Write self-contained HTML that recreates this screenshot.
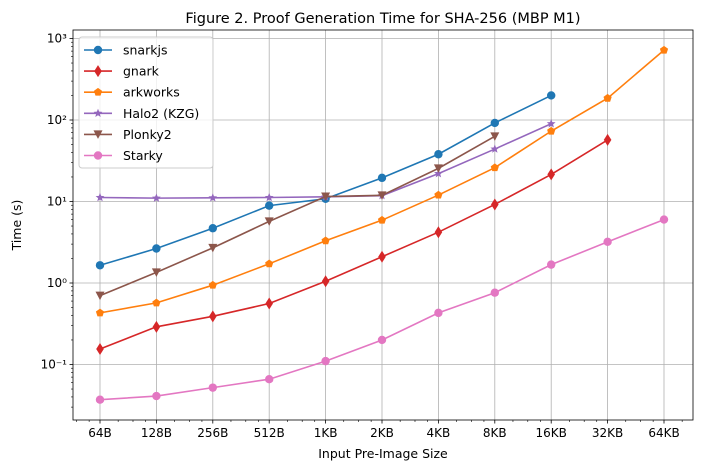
<!DOCTYPE html>
<html><head><meta charset="utf-8"><style>
body{margin:0;background:#fff;font-family:"Liberation Sans","DejaVu Sans",sans-serif}
svg text{font-family:"DejaVu Sans","Liberation Sans",sans-serif}
</style></head><body>
<svg id="c" width="702" height="470" viewBox="0 0 702 470"></svg>
<script>
const categories=["64B","128B","256B","512B","1KB","2KB","4KB","8KB","16KB","32KB","64KB"];
const snarkjs=[1.65,2.65,4.7,8.9,10.8,19.5,38,92,200];
const gnark=[0.155,0.29,0.39,0.56,1.05,2.1,4.2,9.2,21.5,57];
const arkworks=[0.43,0.57,0.94,1.72,3.3,5.9,12,26,73,185,720];
const halo2=[11.2,11.0,11.1,11.2,11.4,11.8,22,44,90];
const plonky2=[0.7,1.35,2.7,5.7,11.5,11.9,25.5,63];
const starky=[0.037,0.041,0.052,0.066,0.11,0.2,0.43,0.76,1.68,3.2,6.0];
const seriesNames=["snarkjs","gnark","arkworks","Halo2 (KZG)","Plonky2","Starky"];
const yTickLabels=["10\u207B\u00B9","10\u2070","10\u00B9","10\u00B2","10\u00B3"];
const yTickExps=[-1,0,1,2,3];

const NS="http://www.w3.org/2000/svg";
const svg=document.getElementById('c');
const L=73,R=693,T=30,B=420;
const x=i=>100+i*(664-100)/10;
const y=v=>283-Math.log10(v)*81.5;
function mk(t,a,p){const e=document.createElementNS(NS,t);for(const k in a)e.setAttribute(k,a[k]);(p||svg).appendChild(e);return e;}
// grid
yTickExps.forEach((e,i)=>{const yy=y(Math.pow(10,e));
 const g=mk('line',{x1:L,x2:R,y1:yy,y2:yy,stroke:'#b0b0b0','stroke-width':0.8});
 
 mk('line',{x1:L-3.5,x2:L,y1:yy,y2:yy,stroke:'#000','stroke-width':0.8});
 const t=mk('text',{x:L-6,y:yy+4,'text-anchor':'end','font-size':12});t.textContent=yTickLabels[i];
 
});
for(let e=-2;e<3;e++)for(let m=2;m<10;m++){const yy=y(m*Math.pow(10,e));if(yy<T||yy>B)continue;
 mk('line',{x1:L-2,x2:L,y1:yy,y2:yy,stroke:'#000','stroke-width':0.6});}
categories.forEach((c,i)=>{const xx=x(i);
 const g=mk('line',{x1:xx,x2:xx,y1:T,y2:B,stroke:'#b0b0b0','stroke-width':0.8});
 
 mk('line',{x1:xx,x2:xx,y1:B,y2:B+3.5,stroke:'#000','stroke-width':0.8});
 const t=mk('text',{x:xx,y:B+17,'text-anchor':'middle','font-size':12});t.textContent=c;
 
});
const step=(664-100)/10;
for(let i=-1;i<11;i++)for(const f of [1.25,1.5,1.75]){const xx=100+(i+Math.log2(f))*step;if(xx<L||xx>R)continue;
 mk('line',{x1:xx,x2:xx,y1:B,y2:B+2,stroke:'#000','stroke-width':0.6});}
const fr=mk('rect',{x:L,y:T,width:R-L,height:B-T,fill:'none',stroke:'#000','stroke-width':0.8});

function marker(kind,cx,cy,col,p){
 if(kind==='o')return mk('circle',{cx,cy,r:4.2,fill:col},p);
 if(kind==='d')return mk('polygon',{points:`${cx},${cy-6} ${cx+3.8},${cy} ${cx},${cy+6} ${cx-3.8},${cy}`,fill:col},p);
 if(kind==='p'){let pts=[];for(let k=0;k<5;k++){const a=-Math.PI/2+k*2*Math.PI/5;pts.push((cx+4.3*Math.cos(a))+','+(cy+4.3*Math.sin(a)));}return mk('polygon',{points:pts.join(' '),fill:col},p);}
 if(kind==='*'){let pts=[];for(let k=0;k<10;k++){const a=-Math.PI/2+k*Math.PI/5,r=k%2?2:4.6;pts.push((cx+r*Math.cos(a))+','+(cy+r*Math.sin(a)));}return mk('polygon',{points:pts.join(' '),fill:col},p);}
 if(kind==='v')return mk('polygon',{points:`${cx-4.5},${cy-4} ${cx+4.5},${cy-4} ${cx},${cy+4.5}`,fill:col},p);
}
const data=[snarkjs,gnark,arkworks,halo2,plonky2,starky];
const colors=['#1f77b4','#d62728','#ff7f0e','#9467bd','#8c564b','#e377c2'];
const marks=['o','d','p','*','v','o'];
const keys=['snarkjs','gnark','arkworks','halo2','plonky2','starky'];
data.forEach((d,s)=>{const g=mk('g',{});
 
 mk('polyline',{points:d.map((v,i)=>x(i)+','+y(v)).join(' '),fill:'none',stroke:colors[s],'stroke-width':1.6},g);
 d.forEach((v,i)=>{const m=marker(marks[s],x(i),y(v),colors[s],g);
  });
});
// legend
const lg=mk('g',{});
mk('rect',{x:79,y:37,width:134,height:131,rx:3,fill:'#fff','fill-opacity':0.8,stroke:'#ccc'},lg);
seriesNames.forEach((n,s)=>{const yy=50+s*21.1;const e=mk('g',{},lg);
 
 mk('line',{x1:84,x2:112,y1:yy,y2:yy,stroke:colors[s],'stroke-width':1.6},e);
 marker(marks[s],98,yy,colors[s],e);
 const t=mk('text',{x:123,y:yy+4.5,'font-size':12.5},e);t.textContent=n;});
const tt=mk('text',{x:383,y:23,'text-anchor':'middle','font-size':14.5});tt.textContent='Figure 2. Proof Generation Time for SHA-256 (MBP M1)';

const xt=mk('text',{x:383,y:458,'text-anchor':'middle','font-size':12.5});xt.textContent='Input Pre-Image Size';

const yt=mk('text',{x:0,y:0,'text-anchor':'middle','font-size':12.5,transform:'translate(21,225) rotate(-90)'});yt.textContent='Time (s)';

</script>
</body></html>
